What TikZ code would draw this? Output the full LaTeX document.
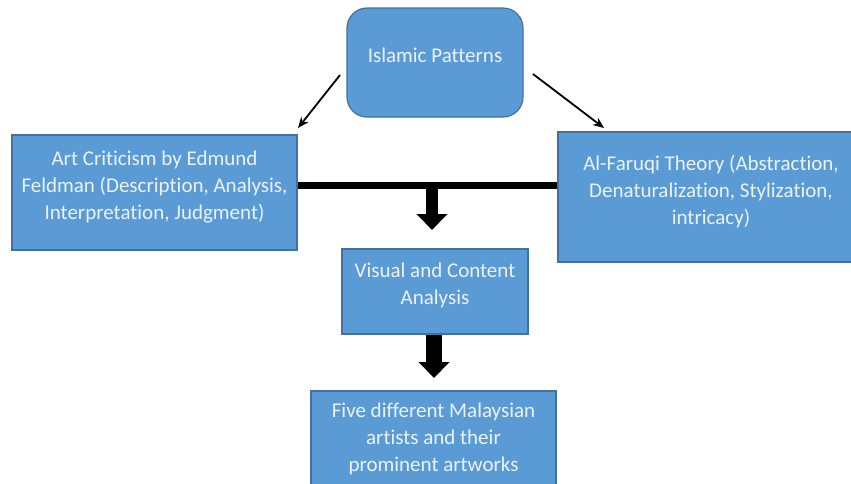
\documentclass[tikz,border=0pt]{standalone}
\usepackage{fontspec}
\setmainfont{Carlito}[Ligatures=CommonOff]
\usetikzlibrary{arrows.meta}
\definecolor{boxfill}{RGB}{91,155,213}
\definecolor{boxline}{RGB}{65,113,156}
\definecolor{boxtext}{RGB}{236,242,250}

\begin{document}
\begin{tikzpicture}[x=1pt,y=-1pt,
	box/.style={rectangle, draw=boxline, line width=1.2pt, fill=boxfill,
		text=boxtext, align=center, font=\fontsize{21}{27}\selectfont,
		text depth=15pt, inner sep=0pt},
	thin/.style={line width=1.8pt, -{Stealth[length=11pt,width=9pt]}},
	thick/.style={line width=#1, -{Triangle[width=30pt,length=16pt]}}
	]
	\useasboundingbox (0,0) rectangle (851,483);
	\node[box, rounded corners=20pt, minimum width=176pt, minimum height=109pt] (islamic) at (435,62.5) {Islamic Patterns};
	\node[box, minimum width=285pt, minimum height=115pt] (art) at (154.5,192.5)
		{Art Criticism by Edmund\\Feldman (Description, Analysis,\\Interpretation, Judgment)};
	\node[box, minimum width=306pt, minimum height=130pt] (faruqi) at (711,197)
		{Al-Faruqi Theory (Abstraction,\\Denaturalization, Stylization,\\intricacy)};
	\node[box, minimum width=186pt, minimum height=85pt] (visual) at (435,291.5)
		{Visual and Content\\Analysis};
	\node[box, minimum width=245pt, minimum height=108pt] (five) at (433.5,445)
		{Five different Malaysian\\artists and their\\prominent artworks};
	
	\coordinate (a1) at (340,75);
	\coordinate (a2) at (298,128);
	\coordinate (b1) at (533,74);
	\coordinate (b2) at (604,128);
	\coordinate (bar) at (432,185.5);
	\coordinate (tip1) at (432,230);
	\coordinate (tip2) at (434,378);
	
	\draw[thin] (a1) -- (a2);
	\draw[thin] (b1) -- (b2);
	\draw[line width=7pt] (art.east |- bar) -- (faruqi.west |- bar);
	\draw[thick=12pt] (bar) -- (tip1);
	\draw[thick=16pt] (visual.south -| tip2) -- (tip2);
\end{tikzpicture}
\end{document}
